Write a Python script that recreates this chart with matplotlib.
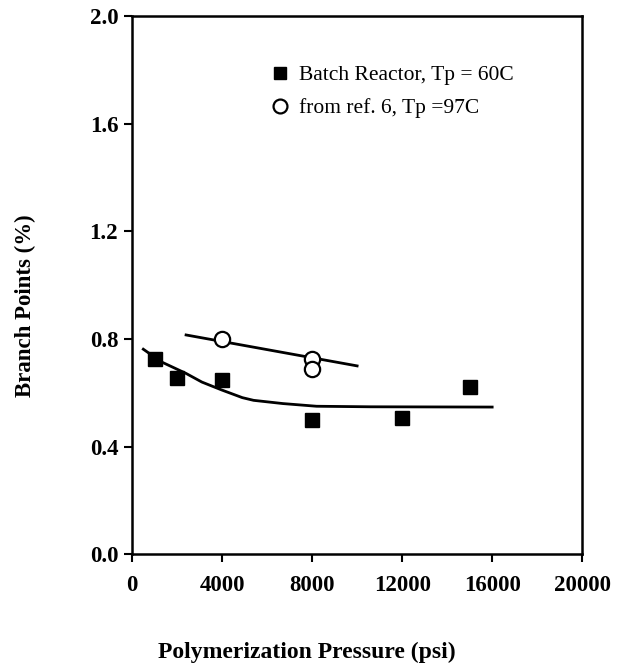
import matplotlib
matplotlib.use("Agg")
import matplotlib.pyplot as plt
from matplotlib.lines import Line2D

# Data
batch_p = [1000, 2000, 4000, 8000, 12000, 15000]
batch_bp = [0.725, 0.655, 0.647, 0.50, 0.506, 0.62]

ref6_p = [4000, 8000, 8000]
ref6_bp = [0.80, 0.725, 0.69]

# Trend curve through batch data
batch_curve_p = [500, 1300, 2400, 3100, 4000, 4900, 5400, 6700, 8200, 10600, 16000]
batch_curve_bp = [0.762, 0.715, 0.672, 0.640, 0.610, 0.582, 0.572, 0.560, 0.550, 0.548, 0.547]

# Straight trend line through ref. 6 data
ref6_line_p = [2400, 10000]
ref6_line_bp = [0.815, 0.70]

x_ticks = [0, 4000, 8000, 12000, 16000, 20000]
y_ticks = [0.0, 0.4, 0.8, 1.2, 1.6, 2.0]

plt.rcParams['font.family'] = ['Liberation Serif', 'DejaVu Serif']

fig = plt.figure(figsize=(6.2, 6.71), dpi=100)
ax = fig.add_axes([0.213, 0.174, 0.726, 0.802])

ax.plot(batch_curve_p, batch_curve_bp, color='black', lw=2.0, zorder=2)
ax.plot(ref6_line_p, ref6_line_bp, color='black', lw=2.0, zorder=2)
ax.plot(batch_p, batch_bp, linestyle='none', marker='s', markersize=10.5,
        color='black', zorder=3)
ax.plot(ref6_p, ref6_bp, linestyle='none', marker='o', markersize=11,
        markerfacecolor='white', markeredgecolor='black', markeredgewidth=1.6,
        zorder=4)

ax.set_xlim(0, 20000)
ax.set_ylim(0, 2.0)
ax.set_xticks(x_ticks)
ax.set_xticklabels([str(v) for v in x_ticks], fontsize=16.5, fontweight='bold')
ax.set_yticks(y_ticks)
ax.set_yticklabels([f"{v:.1f}" for v in y_ticks], fontsize=16.5, fontweight='bold')
ax.tick_params(direction='out', length=6, width=1.5, pad=4)
ax.tick_params(axis='x', pad=9)
for sp in ax.spines.values():
    sp.set_linewidth(1.8)

fig.text(307 / 620, 1 - 652 / 671, 'Polymerization Pressure (psi)', fontsize=17,
         fontweight='bold', ha='center', va='center')
fig.text(25 / 620, 1 - 306 / 671, 'Branch Points (%)', fontsize=16.5,
         fontweight='bold', ha='center', va='center', rotation=90)

handles = [
    Line2D([], [], linestyle='none', marker='s', markersize=9, color='black'),
    Line2D([], [], linestyle='none', marker='o', markersize=10,
           markerfacecolor='white', markeredgecolor='black', markeredgewidth=1.6),
]
labels = ['Batch Reactor, Tp = 60C', 'from ref. 6, Tp =97C']
ax.legend(handles, labels, loc='upper left', bbox_to_anchor=(0.285, 0.925),
          frameon=False, fontsize=15.5, handletextpad=0.4, labelspacing=0.6,
          borderaxespad=0, handlelength=1.0)

fig.savefig('out.png', dpi=100)
